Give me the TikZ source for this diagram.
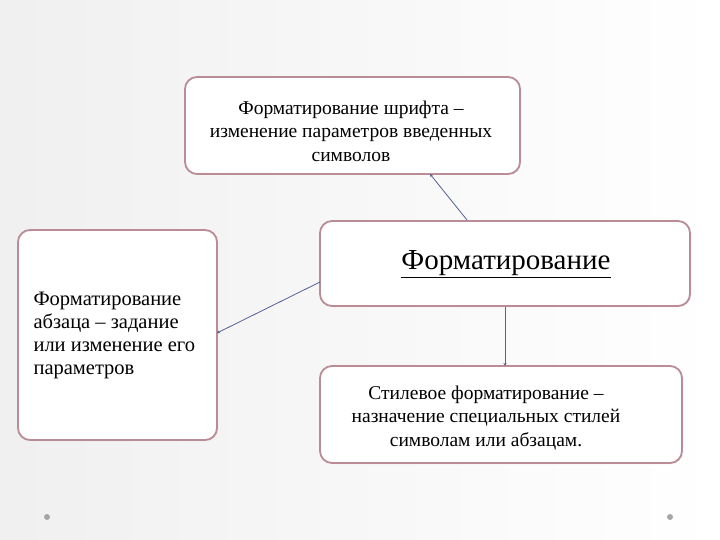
\documentclass[tikz,border=0pt]{standalone}
\usepackage{fontspec}
\setmainfont{Liberation Serif}
\usetikzlibrary{arrows.meta,shadows}
\definecolor{bord}{RGB}{185,140,150}
\definecolor{conn}{RGB}{85,95,150}
\begin{document}
\begin{tikzpicture}[x=1pt,y=-1pt,
  box/.style={draw=bord,line width=1.8pt,rounded corners=12pt,fill=white,drop shadow={opacity=0.15,shadow xshift=1pt,shadow yshift=-1pt}},
  conn/.style={draw=conn,line width=0.8pt,-{Stealth[length=3pt,width=3pt]}},
  txt/.style={font=\fontsize{19.5}{23.5}\selectfont,align=center}]
\shade[top color=white,bottom color=white,left color=gray!12,right color=white] (0,0) rectangle (720,540);
\useasboundingbox (0,0) rectangle (720,540);
\draw[box] (185,77) rectangle (520,174);
\node[txt] (top) at (351,131) {Форматирование шрифта –\\изменение параметров введенных\\символов};
\draw[box] (320,221) rectangle (690,306);
\node[font=\fontsize{29}{32}\selectfont] (cen) at (506,264) {\underline{Форматирование}};
\draw[box] (18,230) rectangle (217,440);
\node[align=left,anchor=west,font=\fontsize{20.5}{23}\selectfont] (lft) at (30,335) {Форматирование\\абзаца – задание\\или изменение его\\параметров};
\draw[box] (320,366) rectangle (682,463);
\node[txt] (bot) at (486,418) {Стилевое форматирование –\\назначение специальных стилей\\символам или абзацам.};
\coordinate (c1) at (467,220);
\coordinate (a1) at (430,174);
\coordinate (c2) at (320,282);
\coordinate (a2) at (217,333);
\coordinate (c3) at (505,307);
\coordinate (a3) at (505,366);
\draw[conn] (c1) -- (a1);
\draw[conn] (c2) -- (a2);
\draw[conn] (c3) -- (a3);
\fill[gray!70] (47,517) circle (3);
\fill[gray!70] (670,517) circle (3);
\end{tikzpicture}
\end{document}
